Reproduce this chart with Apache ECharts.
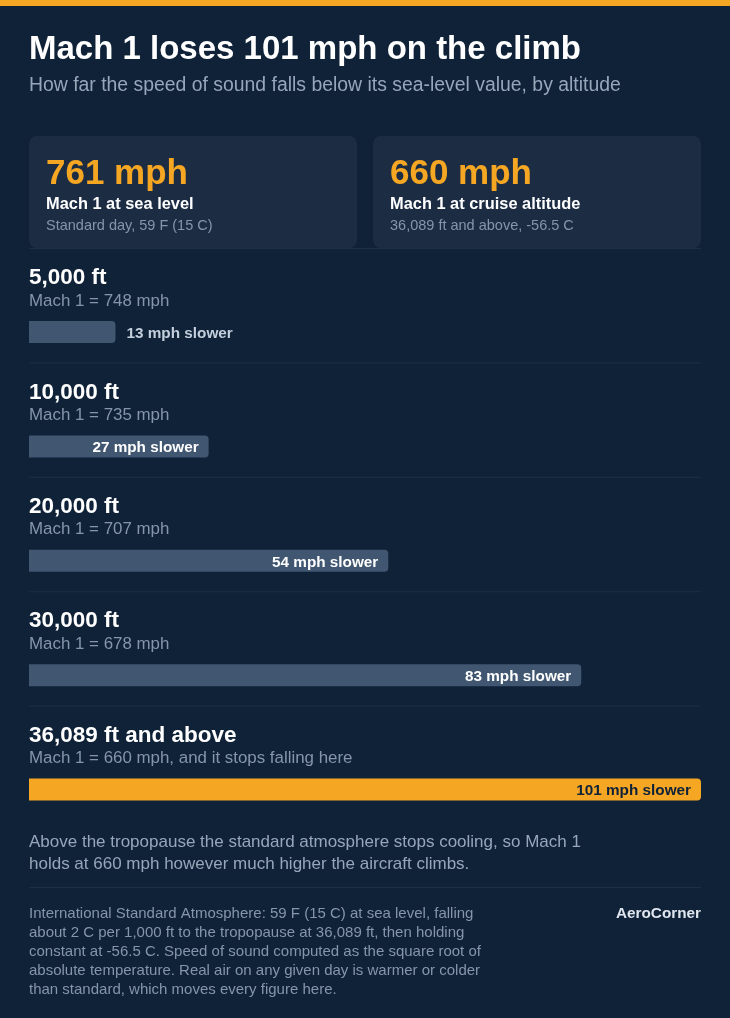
<!DOCTYPE html>
<html>
<head>
<meta charset="utf-8">
<title>Mach 1 loses 101 mph on the climb</title>
<script src="https://cdn.jsdelivr.net/npm/echarts@6/dist/echarts.min.js"></script>
<style>
  html, body { margin: 0; padding: 0; background: #0f2238; }
  #main_chart { width: 730px; height: 1018px; }
</style>
</head>
<body>
<div id="main_chart"></div>
<script>
// data
const altitudes = ['5,000 ft', '10,000 ft', '20,000 ft', '30,000 ft', '36,089 ft and above'];
const machMph = [748, 735, 707, 678, 660];
const slowerMph = [13, 27, 54, 83, 101];
const seaLevelMph = 761;
const cruiseMph = 660;

const FONT = '"Liberation Sans", Arial, Helvetica, sans-serif';
const BG = '#0f2238';
const ORANGE = '#f5a623';
const MUTED = '#97a7ba';
const DIM = '#8596aa';

const myChart = echarts.init(document.getElementById('main_chart'));

const left = 29, right = 701, rowStart = 248, rowStep = 114.4;

// small helper: text centred vertically on y (middle sits ~2px high, so nudge it)
function txt(x, y, text, fill, font, extra) {
    const style = { text: text, fill: fill, font: font, verticalAlign: 'middle' };
    if (extra) Object.assign(style, extra);
    return { type: 'text', x: x, y: y + 2, style: style };
}

const grids = [], xAxes = [], yAxes = [], series = [];
const graphics = [
    // orange stripe on top
    { type: 'rect', shape: { x: 0, y: 0, width: 730, height: 6 }, style: { fill: ORANGE } },
    txt(left, 48, 'Mach 1 loses ' + (seaLevelMph - cruiseMph) + ' mph on the climb', '#ffffff', 'bold 33px ' + FONT),
    txt(left, 84, 'How far the speed of sound falls below its sea-level value, by altitude', MUTED, '19.4px ' + FONT)
];

// two summary cards
const cards = [
    { x: left, big: seaLevelMph + ' mph', head: 'Mach 1 at sea level', sub: 'Standard day, 59 F (15 C)' },
    { x: 373, big: cruiseMph + ' mph', head: 'Mach 1 at cruise altitude', sub: '36,089 ft and above, -56.5 C' }
];
cards.forEach(function (c) {
    graphics.push({ type: 'rect', shape: { x: c.x, y: 136, width: 328, height: 112, r: 8 }, style: { fill: '#1b2c43' } });
    graphics.push(txt(c.x + 17, 172, c.big, ORANGE, 'bold 35px ' + FONT));
    graphics.push(txt(c.x + 17, 202, c.head, '#ffffff', 'bold 16.4px ' + FONT));
    graphics.push(txt(c.x + 17, 224, c.sub, DIM, '14.5px ' + FONT));
});

altitudes.forEach(function (alt, i) {
    const top = rowStart + i * rowStep;
    const last = i === altitudes.length - 1;
    graphics.push({ type: 'rect', shape: { x: left, y: top, width: right - left, height: 1 }, style: { fill: '#1d2f46' } });
    graphics.push(txt(left, top + 28, alt, '#ffffff', 'bold 22.5px ' + FONT));
    graphics.push(txt(left, top + 51,
        'Mach 1 = ' + machMph[i] + ' mph' + (last ? ', and it stops falling here' : ''),
        DIM, '16.9px ' + FONT));

    grids.push({ left: left, width: right - left, top: top + 73, height: 22 });
    xAxes.push({ gridIndex: i, type: 'value', min: 0, max: Math.max.apply(null, slowerMph), show: false });
    yAxes.push({ gridIndex: i, type: 'category', data: [alt], show: false });
    const outside = slowerMph[i] < 20;
    series.push({
        type: 'bar', xAxisIndex: i, yAxisIndex: i, barWidth: 22,
        data: [slowerMph[i]],
        itemStyle: { color: last ? ORANGE : '#415670', borderRadius: [0, 4, 4, 0] },
        label: {
            show: true,
            position: outside ? 'right' : 'insideRight',
            distance: outside ? 11 : 10,
            offset: [0, 1.5],
            formatter: '{c} mph slower',
            color: last ? '#0f2238' : (outside ? '#c3cfdc' : '#ffffff'),
            fontFamily: FONT, fontWeight: 'bold', fontSize: 15.3
        },
        silent: true
    });
});

// note and source
graphics.push(txt(left, 851,
    'Above the tropopause the standard atmosphere stops cooling, so Mach 1\nholds at ' + cruiseMph + ' mph however much higher the aircraft climbs.',
    MUTED, '17px ' + FONT, { lineHeight: 22 }));
graphics.push({ type: 'rect', shape: { x: left, y: 887, width: right - left, height: 1 }, style: { fill: '#1d2f46' } });
graphics.push(txt(left, 950,
    'International Standard Atmosphere: 59 F (15 C) at sea level, falling\nabout 2 C per 1,000 ft to the tropopause at 36,089 ft, then holding\nconstant at -56.5 C. Speed of sound computed as the square root of\nabsolute temperature. Real air on any given day is warmer or colder\nthan standard, which moves every figure here.',
    DIM, '15px ' + FONT, { lineHeight: 19 }));
graphics.push(txt(right, 912, 'AeroCorner', '#dfe6ee', 'bold 15.3px ' + FONT, { align: 'right' }));

var option = {
    backgroundColor: BG,
    animation: false,
    grid: grids,
    xAxis: xAxes,
    yAxis: yAxes,
    series: series,
    graphic: graphics
};

myChart.setOption(option);
window.onresize = function () {
    myChart.resize();
};
</script>
</body>
</html>
